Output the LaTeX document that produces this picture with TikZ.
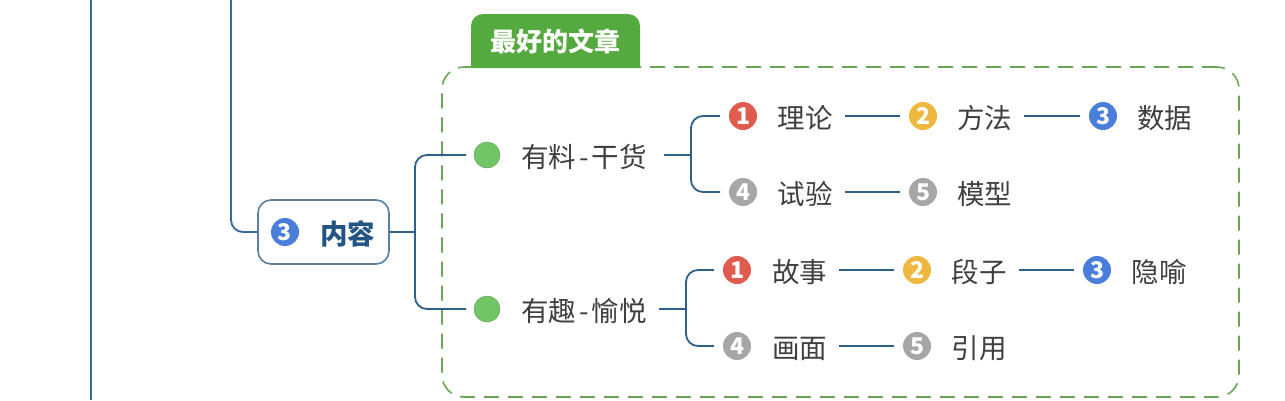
\documentclass[tikz,border=0pt]{standalone}
\usepackage{fontspec}
\setmainfont{Noto Sans CJK SC}
\usetikzlibrary{positioning}

\definecolor{linkblue}{HTML}{2F6088}
\definecolor{trunkblue}{HTML}{3A6A9C}
\definecolor{boxgreen}{HTML}{6BA558}
\definecolor{tabgreen}{HTML}{54A93F}
\definecolor{dotgreen}{HTML}{72C566}
\definecolor{numred}{HTML}{DE5B4D}
\definecolor{numyellow}{HTML}{EEB840}
\definecolor{numblue}{HTML}{4A7EDB}
\definecolor{numgray}{HTML}{A6A6A6}
\definecolor{inktext}{HTML}{3F3F3F}
\definecolor{headtext}{HTML}{225583}

\tikzset{
  link/.style={draw=linkblue,line width=1.8pt,rounded corners=12pt},
  trunk/.style={draw=trunkblue,line width=1.9pt},
  num/.style={circle,fill=#1,minimum size=28pt,inner sep=0pt,outer sep=9pt,text=white,
    font=\fontsize{23pt}{23pt}\selectfont\bfseries},
  dot/.style={circle,fill=dotgreen,draw=dotgreen!85!black,line width=.5pt,minimum size=26pt,inner sep=0pt,outer sep=8pt},
  word/.style={inner sep=0pt,outer sep=12pt,text=inktext,text height=26pt,text depth=2pt,
    font=\fontsize{27.5pt}{28pt}\selectfont},
}

\begin{document}
\begin{tikzpicture}[x=1pt,y=-1pt]
\useasboundingbox (0,0) rectangle (1285,400);

% dashed frame and its tab
\node[draw=boxgreen,dashed,dash pattern=on 15pt off 9pt,line width=1.6pt,rounded corners=22pt,minimum width=797pt,minimum height=330pt,inner sep=0pt] (frame) at (840.5,232) {};
\fill[tabgreen] (471,68) [rounded corners=12pt] -- (471,14) -- (640,14) [sharp corners] -- (640,68) -- cycle;
\node[text=white,inner sep=0pt,font=\fontsize{26pt}{26pt}\selectfont\bfseries] (tab) at (555.5,41) {最好的文章};

% trunk lines coming in from above
\coordinate (trunktop) at (91,0);
\coordinate (trunkend) at (91,400);
\coordinate (branchtop) at (231,0);
\draw[trunk] (trunktop) -- (trunkend);

% main topic
\node[draw=linkblue!80!white,fill=white,line width=1.6pt,rounded corners=13pt,minimum width=131pt,minimum height=64pt,inner sep=0pt] (content) at (323.5,232) {};
\node[num=numblue] (contentnum) at (285,232) {3};
\node[inner sep=0pt,text=headtext,text height=26pt,text depth=2pt,font=\fontsize{27.5pt}{28pt}\selectfont\bfseries] (contenttext) at (347.5,232) {内容};
\draw[trunk,rounded corners=12pt] (branchtop) |- (content.west);

% first group
\node[dot] (ldot) at (487,155) {};
\node[word] (ltext) at (584,155) {有料\kern3pt-\kern3pt 干货};
\coordinate (ljoin) at (691,155);
\coordinate (lstart) at (664,155);
\node[num=numred] (a1) at (743,116) {1};
\node[word] (a1t) at (805,116) {理论};
\node[num=numyellow] (a2) at (923,116) {2};
\node[word] (a2t) at (984.5,116) {方法};
\node[num=numblue] (a3) at (1103,116) {3};
\node[word] (a3t) at (1164.5,116) {数据};
\node[num=numgray] (a4) at (743,192) {4};
\node[word] (a4t) at (805,192) {试验};
\node[num=numgray] (a5) at (923,192) {5};
\node[word] (a5t) at (984.5,192) {模型};

% second group
\node[dot] (qdot) at (487,309) {};
\node[word] (qtext) at (584,309) {有趣\kern3pt-\kern3pt 愉悦};
\coordinate (qjoin) at (686,309);
\coordinate (qstart) at (659,309);
\node[num=numred] (b1) at (737,270) {1};
\node[word] (b1t) at (799.5,270) {故事};
\node[num=numyellow] (b2) at (917,270) {2};
\node[word] (b2t) at (979,270) {段子};
\node[num=numblue] (b3) at (1097,270) {3};
\node[word] (b3t) at (1159,270) {隐喻};
\node[num=numgray] (b4) at (737,346) {4};
\node[word] (b4t) at (799.5,346) {画面};
\node[num=numgray] (b5) at (917,346) {5};
\node[word] (b5t) at (979,346) {引用};

% connectors
\coordinate (cjoin) at (415,232);
\draw[link] (content.east) -- (cjoin);
\draw[link] (cjoin) |- (ldot.west);
\draw[link] (cjoin) |- (qdot.west);
\draw[link] (lstart) -- (ljoin);
\draw[link] (ljoin) |- (a1.west);
\draw[link] (ljoin) |- (a4.west);
\draw[link] (qstart) -- (qjoin);
\draw[link] (qjoin) |- (b1.west);
\draw[link] (qjoin) |- (b4.west);
\draw[link] (a1t.east) -- (a2.west);
\draw[link] (a2t.east) -- (a3.west);
\draw[link] (a4t.east) -- (a5.west);
\draw[link] (b1t.east) -- (b2.west);
\draw[link] (b2t.east) -- (b3.west);
\draw[link] (b4t.east) -- (b5.west);
\end{tikzpicture}
\end{document}
